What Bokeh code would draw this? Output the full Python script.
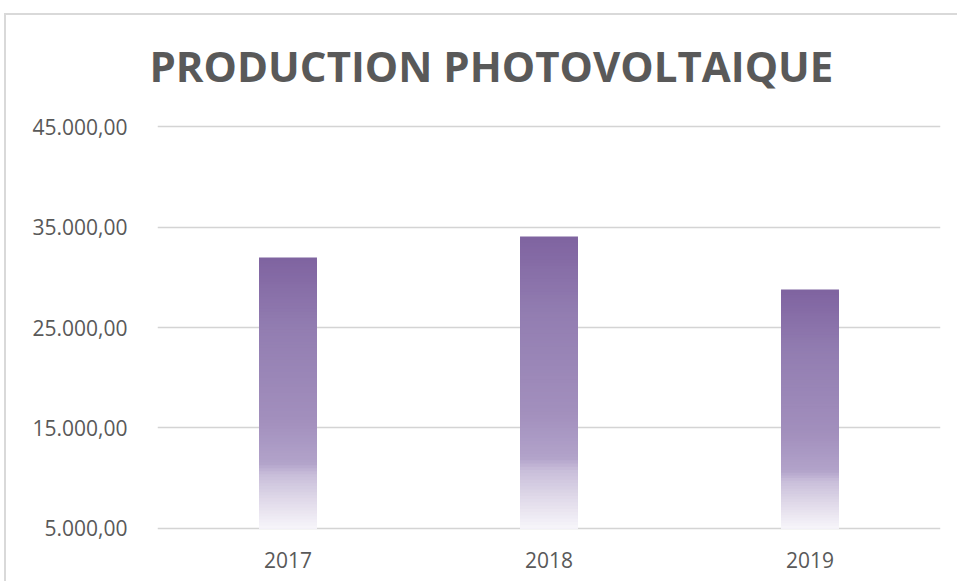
from bokeh.plotting import figure
from bokeh.models import Range1d, FixedTicker, ColumnDataSource, InlineStyleSheet
from bokeh.embed import file_html
from bokeh.resources import INLINE

# ---- data ----
years = ["2017", "2018", "2019"]
production = [31970, 34050, 28780]
y_ticks = [5000, 15000, 25000, 35000, 45000]
y_tick_labels = ["5.000,00", "15.000,00", "25.000,00", "35.000,00", "45.000,00"]
base_value = 5000
title_text = "PRODUCTION PHOTOVOLTAIQUE"

# gradient stops: (fraction of bar height from bottom, rgb)
stops = [(0.0, (247, 245, 250)), (0.1, (225, 219, 234)), (0.2, (200, 189, 217)),
         (0.24, (178, 163, 202)), (0.4, (162, 143, 189)), (0.74, (146, 125, 177)),
         (1.0, (127, 99, 160))]


def grad_color(f):
    for (f0, c0), (f1, c1) in zip(stops[:-1], stops[1:]):
        if f0 <= f <= f1:
            t = (f - f0) / (f1 - f0)
            r, g, b = (round(a + (b_ - a) * t) for a, b_ in zip(c0, c1))
            return "#%02x%02x%02x" % (r, g, b)
    return "#%02x%02x%02x" % stops[-1][1]


N = 90
xs, tops, colors = [], [], []
for k in range(N, 0, -1):
    for yr, v in zip(years, production):
        xs.append(yr)
        tops.append(base_value + (v - base_value) * k / N)
        colors.append(grad_color((k - 0.5) / N))
src = ColumnDataSource(dict(x=xs, top=tops, color=colors))

W, H = 957, 581
p = figure(x_range=years, y_range=Range1d(4700, 45300), width=W, height=H,
           output_backend="svg", toolbar_location=None,
           min_border_left=157, min_border_right=17, min_border_top=123, min_border_bottom=50)
p.outline_line_color = None
p.background_fill_color = "white"
p.border_fill_color = None

# chart-area border (left and top edges), drawn behind the transparent canvas border
p.stylesheets = [InlineStyleSheet(css=(
    ":host { background:"
    " linear-gradient(#d9d9d9, #d9d9d9) 4px 13px / 2px 100% no-repeat,"
    " linear-gradient(#d9d9d9, #d9d9d9) 4px 13px / 100% 2px no-repeat,"
    " white; }"))]

p.vbar(x="x", top="top", bottom=base_value, width=0.222, fill_color="color",
       line_color=None, source=src)

p.title.text = title_text
p.title.text_font = "Open Sans"
p.title.text_font_style = "bold"
p.title.text_font_size = "42px"
p.title.text_color = "#595959"
p.title.align = "left"
p.title.offset = -8
p.title.standoff = 59

p.yaxis.ticker = FixedTicker(ticks=y_ticks)
p.yaxis.major_label_overrides = {t: s for t, s in zip(y_ticks, y_tick_labels)}
for ax in (p.xaxis[0], p.yaxis[0]):
    ax.axis_line_color = None
    ax.major_tick_line_color = None
    ax.minor_tick_line_color = None
    ax.major_label_text_font = "Open Sans"
    ax.major_label_text_font_size = "21px"
    ax.major_label_text_color = "#595959"
p.yaxis.major_label_standoff = 24
p.xaxis.major_label_standoff = 14

p.xgrid.grid_line_color = None
p.ygrid.ticker = FixedTicker(ticks=y_ticks)
p.ygrid.grid_line_color = "#d4d4d4"
p.ygrid.grid_line_width = 1.5

open("out.html", "w").write(file_html(p, INLINE))
